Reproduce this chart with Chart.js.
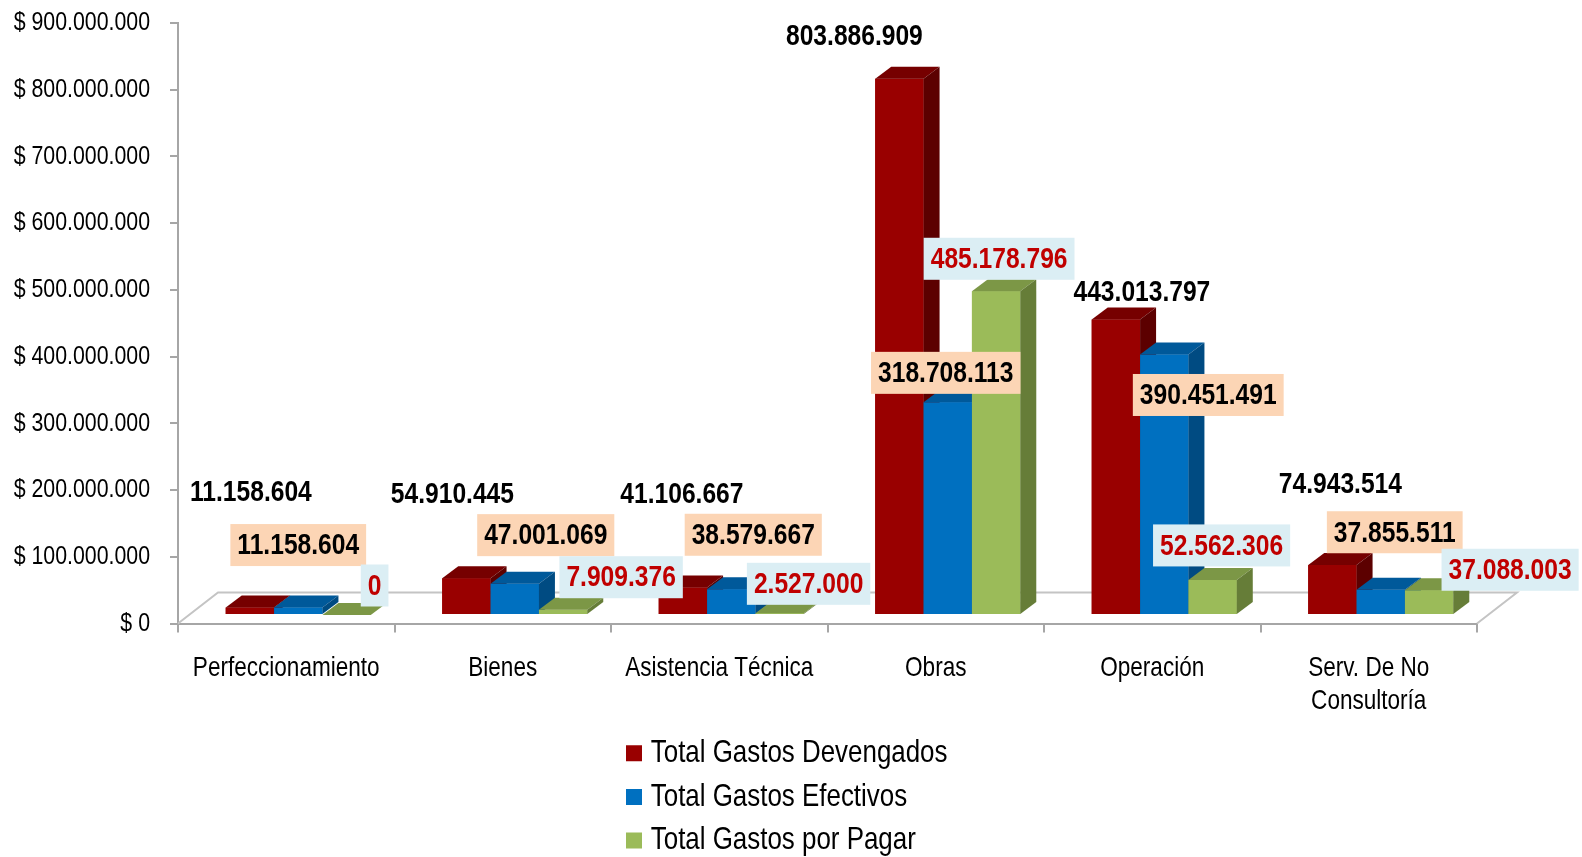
<!DOCTYPE html>
<html lang="es">
<head>
<meta charset="utf-8">
<title>Gastos por tipo de gasto</title>
<script src="https://cdn.jsdelivr.net/npm/chart.js@4.4.1/dist/chart.umd.min.js"></script>
<style>
  html, body { margin: 0; padding: 0; background: #ffffff; }
  #wrap { width: 1582px; height: 857px; position: relative; }
</style>
</head>
<body>
<div id="wrap"><canvas id="chart" width="1582" height="857"></canvas></div>
<script>
// ---- data ----
const categories = ['Perfeccionamiento', 'Bienes', 'Asistencia Técnica', 'Obras', 'Operación', ['Serv. De No', 'Consultoría']];
const seriesNames = ['Total Gastos Devengados', 'Total Gastos Efectivos', 'Total Gastos por Pagar'];
const devengados = [11158604, 54910445, 41106667, 803886909, 443013797, 74943514];
const efectivos  = [11158604, 47001069, 38579667, 318708113, 390451491, 37855511];
const porPagar   = [0, 7909376, 2527000, 485178796, 52562306, 37088003];
const yTickValues = [0, 100000000, 200000000, 300000000, 400000000, 500000000, 600000000, 700000000, 800000000, 900000000];

// ---- type: a narrow sans; when no narrow face is installed the regular one is condensed ----
function hasFont(name) {
  const c = document.createElement('canvas').getContext('2d');
  const t = 'abcdefghijklmnopqrstuvwxyz0123456789';
  c.font = '40px monospace';
  const w0 = c.measureText(t).width;
  c.font = '40px "' + name + '", monospace';
  return c.measureText(t).width !== w0;
}
const NARROW = hasFont('Liberation Sans Narrow');
const FAMILY = NARROW ? '"Liberation Sans Narrow", "Liberation Sans", Arial, sans-serif' : '"Liberation Sans", Arial, sans-serif';
const SQ = NARROW ? 1 : 0.82;

const canvas = document.getElementById('chart');
const ctx2d = canvas.getContext('2d');
if (SQ !== 1) {
  const fill = ctx2d.fillText.bind(ctx2d);
  const measure = ctx2d.measureText.bind(ctx2d);
  ctx2d.fillText = function (text, x, y) {
    this.save();
    this.translate(x, y);
    this.scale(SQ, 1);
    fill(text, 0, 0);
    this.restore();
  };
  ctx2d.measureText = function (text) {
    const m = measure(text);
    return {
      width: m.width * SQ,
      actualBoundingBoxLeft: m.actualBoundingBoxLeft * SQ,
      actualBoundingBoxRight: m.actualBoundingBoxRight * SQ,
      actualBoundingBoxAscent: m.actualBoundingBoxAscent,
      actualBoundingBoxDescent: m.actualBoundingBoxDescent,
      fontBoundingBoxAscent: m.fontBoundingBoxAscent,
      fontBoundingBoxDescent: m.fontBoundingBoxDescent
    };
  };
}

// ---- look ----
const faces = [
  { front: '#990000', top: '#760000', side: '#5C0000' },
  { front: '#0070C0', top: '#00599A', side: '#004B82' },
  { front: '#9BBB59', top: '#7C9746', side: '#667D38' }
];
const DEPTH = { dx: 16, dy: 12 };     // depth of each bar
const SHIFT = { dx: 12, dy: -8.5 };   // bars stand halfway back on the floor
const FLOOR = { dx: 40, dy: 31 };     // floor depth

// value label placement, relative to the top centre of each bar
const labelShift = [
  [[13, -124], [-2, -93], [11, -102], [-33, -51], [38, -36], [20, -90]],
  [[12, -71], [43, -57], [34, -63], [10, -38], [56, 32], [26, -66]],
  [[40, -38], [70, -41], [41, -38], [15, -41], [21, -43], [93, -29]]
];
const labelStyle = [
  { color: '#000000', bg: null },
  { color: '#000000', bg: '#FCD5B5' },
  { color: '#C00000', bg: '#DBEEF4' }
];

const fmt = v => Math.round(v).toString().replace(/\B(?=(\d{3})+(?!\d))/g, '.');

const bars3d = {
  id: 'bars3d',
  afterInit(chart) {
    // legend is listed one entry per row under the chart
    const lg = chart.legend;
    const fit = lg.fit.bind(lg);
    lg.fit = function () { fit(); this.height = 142; };
  },
  afterLayout(chart) {
    const lg = chart.legend;
    lg.left = 621; lg.right = 1021; lg.width = 400;
    lg.top = 725.5; lg.bottom = 857; lg.height = 131.5;
  },
  beforeDatasetsDraw(chart) {
    const { ctx, chartArea: a } = chart;
    ctx.save();
    ctx.strokeStyle = '#C4C4C4';
    ctx.lineWidth = 2;
    ctx.beginPath();
    ctx.moveTo(a.left, a.bottom);
    ctx.lineTo(a.left + FLOOR.dx, a.bottom - FLOOR.dy);
    ctx.lineTo(a.right + FLOOR.dx, a.bottom - FLOOR.dy);
    ctx.lineTo(a.right, a.bottom);
    ctx.stroke();
    ctx.restore();
    ctx.save();
    ctx.translate(SHIFT.dx, SHIFT.dy);
  },
  afterDatasetsDraw(chart) {
    const ctx = chart.ctx;
    const metas = faces.map((f, i) => chart.getDatasetMeta(i));
    for (let j = 0; j < categories.length; j++) {
      metas.forEach((m, d) => {
        const el = m.data[j];
        if (!el) return;
        el.draw(ctx);
        const l = el.x - el.width / 2, r = el.x + el.width / 2, t = el.y, b = el.base;
        ctx.fillStyle = faces[d].top;
        ctx.beginPath();
        ctx.moveTo(l, t); ctx.lineTo(l + DEPTH.dx, t - DEPTH.dy);
        ctx.lineTo(r + DEPTH.dx, t - DEPTH.dy); ctx.lineTo(r, t);
        ctx.closePath(); ctx.fill();
        ctx.fillStyle = faces[d].side;
        ctx.beginPath();
        ctx.moveTo(r, t); ctx.lineTo(r + DEPTH.dx, t - DEPTH.dy);
        ctx.lineTo(r + DEPTH.dx, b - DEPTH.dy); ctx.lineTo(r, b);
        ctx.closePath(); ctx.fill();
      });
    }
    ctx.restore();
  },
  afterDraw(chart) {
    const ctx = chart.ctx;
    ctx.save();
    ctx.font = 'bold 30px ' + FAMILY;
    ctx.textAlign = 'center';
    ctx.textBaseline = 'middle';
    chart.data.datasets.forEach((ds, d) => {
      const meta = chart.getDatasetMeta(d);
      ds.data.forEach((v, j) => {
        const el = meta.data[j];
        const txt = fmt(v);
        const x = el.x + labelShift[d][j][0];
        const y = el.y + labelShift[d][j][1];
        const w = ctx.measureText(txt).width;
        if (labelStyle[d].bg) {
          ctx.fillStyle = labelStyle[d].bg;
          ctx.fillRect(x - w / 2 - 7, y - 21, w + 14, 42);
        }
        ctx.fillStyle = labelStyle[d].color;
        ctx.fillText(txt, x, y + 1);
      });
    });
    ctx.restore();
  }
};

const seriesValues = [devengados, efectivos, porPagar];

new Chart(canvas, {
  type: 'bar',
  data: {
    labels: categories,
    datasets: seriesValues.map((vals, i) => ({
      label: seriesNames[i],
      data: vals,
      backgroundColor: faces[i].front,
      borderWidth: 0,
      pointStyle: 'rect',
      clip: false,
      categoryPercentage: 0.67,
      barPercentage: 1.0
    }))
  },
  options: {
    responsive: false,
    animation: false,
    devicePixelRatio: 1,
    layout: { padding: { left: 0, right: 105, top: 23, bottom: 0 } },
    plugins: {
      tooltip: { enabled: false },
      legend: {
        position: 'bottom',
        align: 'start',
        labels: {
          usePointStyle: true,
          pointStyle: 'rect',
          boxWidth: 2,
          boxHeight: 16,
          padding: 12,
          color: '#000000',
          font: { family: FAMILY, size: 31.6 }
        }
      }
    },
    scales: {
      x: {
        grid: { drawOnChartArea: false, offset: true, tickLength: 9, color: '#A6A6A6', lineWidth: 2 },
        border: { display: true, color: '#A6A6A6', width: 2 },
        ticks: { color: '#000000', padding: 19, maxRotation: 0, autoSkip: false, font: { family: FAMILY, size: 27.5 } },
        afterFit(s) { s.height = 91.5; }
      },
      y: {
        min: 0,
        max: 900000000,
        afterBuildTicks(s) { s.ticks = yTickValues.map(v => ({ value: v })); },
        grid: { drawOnChartArea: false, tickLength: 8, color: '#A6A6A6', lineWidth: 2 },
        border: { display: true, color: '#A6A6A6', width: 2 },
        ticks: {
          color: '#000000',
          padding: 20,
          font: { family: FAMILY, size: 26 },
          callback: v => '$ ' + fmt(v)
        },
        afterFit(s) { s.width = 178; s.paddingTop = 15; s.paddingBottom = 15; }
      }
    }
  },
  plugins: [bars3d]
});
</script>
</body>
</html>
